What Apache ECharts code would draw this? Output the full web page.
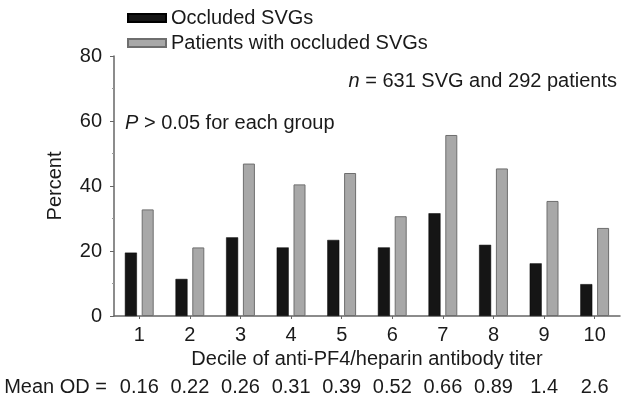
<!DOCTYPE html>
<html>
<head>
<meta charset="utf-8">
<script src="https://cdn.jsdelivr.net/npm/echarts@6/dist/echarts.min.js"></script>
<style>
html,body{margin:0;padding:0;background:#fff;}
#chart{width:631px;height:402px;}
</style>
</head>
<body>
<div id="chart"></div>
<script>
var deciles = ['1','2','3','4','5','6','7','8','9','10'];
var meanOD = ['0.16','0.22','0.26','0.31','0.39','0.52','0.66','0.89','1.4','2.6'];
var occludedSVGs = [19.5, 11.4, 24.2, 21.1, 23.4, 21.1, 31.6, 21.9, 16.2, 9.8];
var patientsOccluded = [32.8, 21.1, 46.9, 40.5, 44.0, 30.7, 55.7, 45.4, 35.4, 27.1];
var yTicks = [0, 20, 40, 60, 80];

var FONT = '"Liberation Sans", Arial, Helvetica, sans-serif';
var TXT = '#1a1a1a';
var FS = 20;

var chart = echarts.init(document.getElementById('chart'), null, {renderer: 'canvas'});
chart.setOption({
  animation: false,
  backgroundColor: '#ffffff',
  textStyle: {fontFamily: FONT, color: TXT},
  grid: {left: 114, right: 11, top: 56, bottom: 86, containLabel: false},
  legend: {
    orient: 'vertical',
    left: 127,
    top: 7,
    padding: [0, 0, 0, 0],
    itemWidth: 38,
    itemHeight: 8,
    itemGap: 3,
    icon: 'rect',
    textStyle: {fontFamily: FONT, fontSize: FS, color: TXT, lineHeight: 22},
    data: ['Occluded SVGs', 'Patients with occluded SVGs']
  },
  xAxis: [{
    type: 'category',
    data: deciles,
    position: 'bottom',
    axisLine: {lineStyle: {color: '#666', width: 1.5}},
    axisTick: {show: true, alignWithLabel: true, length: 3, lineStyle: {color: '#666'}},
    axisLabel: {fontFamily: FONT, fontSize: FS, color: TXT, margin: 9, interval: 0},
    name: 'Decile of anti-PF4/heparin antibody titer',
    nameLocation: 'middle',
    nameGap: 31,
    nameTextStyle: {fontFamily: FONT, fontSize: FS, color: TXT}
  }, {
    type: 'category',
    data: meanOD,
    position: 'bottom',
    offset: 61,
    axisLine: {show: false},
    axisTick: {show: false},
    axisLabel: {fontFamily: FONT, fontSize: FS, color: TXT, margin: 0, interval: 0},
    name: 'Mean OD =',
    nameLocation: 'start',
    nameGap: 7,
    nameTextStyle: {fontFamily: FONT, fontSize: FS, color: TXT, verticalAlign: 'top', align: 'right'}
  }],
  yAxis: {
    type: 'value',
    min: yTicks[0],
    max: yTicks[yTicks.length - 1],
    interval: 20,
    axisLine: {show: true, lineStyle: {color: '#666', width: 1.5}},
    axisTick: {show: true, length: 4, lineStyle: {color: '#666'}},
    minorTick: {show: true, splitNumber: 2, length: 2, lineStyle: {color: '#999'}},
    splitLine: {show: false},
    axisLabel: {fontFamily: FONT, fontSize: FS, color: TXT, margin: 12},
    name: 'Percent',
    nameLocation: 'middle',
    nameRotate: 90,
    nameGap: 49,
    nameTextStyle: {fontFamily: FONT, fontSize: FS, color: TXT}
  },
  graphic: [{
    type: 'text',
    left: 125,
    top: 113,
    style: {
      text: '{i|P} > 0.05 for each group',
      font: FS + 'px ' + FONT,
      fill: TXT,
      rich: {i: {fontStyle: 'italic', fontFamily: FONT, fontSize: FS, fill: TXT}}
    }
  }, {
    type: 'text',
    right: 14,
    top: 71,
    style: {
      text: '{i|n} = 631 SVG and 292 patients',
      font: FS + 'px ' + FONT,
      fill: TXT,
      rich: {i: {fontStyle: 'italic', fontFamily: FONT, fontSize: FS, fill: TXT}}
    }
  }],
  series: [{
    name: 'Occluded SVGs',
    type: 'bar',
    data: occludedSVGs,
    barWidth: 12,
    barGap: '40%',
    itemStyle: {color: '#151515', borderColor: '#000', borderWidth: 0.5}
  }, {
    name: 'Patients with occluded SVGs',
    type: 'bar',
    data: patientsOccluded,
    barWidth: 12,
    barGap: '40%',
    itemStyle: {color: '#a8a8a8', borderColor: '#6e6e6e', borderWidth: 1}
  }]
});
</script>
</body>
</html>
